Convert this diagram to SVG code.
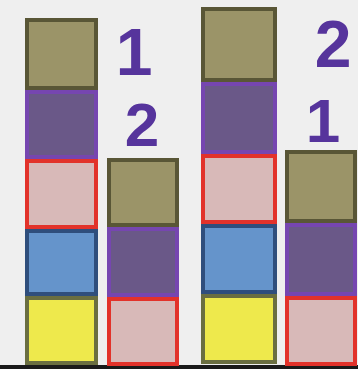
<svg xmlns="http://www.w3.org/2000/svg" width="358" height="369" viewBox="0 0 358 369">
  <style>
    .olive{fill:#9b9468;stroke:#595636;stroke-width:4}
    .purple{fill:#6a5888;stroke:#7646b0;stroke-width:4}
    .pink{fill:#d8b9b8;stroke:#e2322a;stroke-width:4}
    .blue{fill:#6594cb;stroke:#2f4e7c;stroke-width:4}
    .yellow{fill:#eee94c;stroke:#6a6e40;stroke-width:4}
    .num{font-family:"Liberation Sans",Arial,sans-serif;font-weight:bold;fill:#56349c;text-anchor:middle}
  </style>
  <rect x="0" y="0" width="358" height="369" fill="#efefef"/>
  <rect x="0" y="365" width="358" height="4" fill="#1a1a1a"/>
  <g id="column1">
    <rect class="olive" x="27" y="20" width="69" height="68"/>
    <rect class="purple" x="27" y="92" width="69" height="65"/>
    <rect class="pink" x="27" y="161" width="69" height="66"/>
    <rect class="blue" x="27" y="231" width="69" height="63"/>
    <rect class="yellow" x="27" y="298" width="69" height="65"/>
  </g>
  <g id="column2">
    <rect class="olive" x="109" y="160" width="68" height="65"/>
    <rect class="purple" x="109" y="229" width="68" height="66"/>
    <rect class="pink" x="109" y="299" width="68" height="65"/>
  </g>
  <g id="column3">
    <rect class="olive" x="203" y="9" width="72" height="71"/>
    <rect class="purple" x="203" y="84" width="72" height="68"/>
    <rect class="pink" x="203" y="156" width="72" height="66"/>
    <rect class="blue" x="203" y="226" width="72" height="66"/>
    <rect class="yellow" x="203" y="296" width="72" height="66"/>
  </g>
  <g id="column4">
    <rect class="olive" x="287" y="152" width="68" height="69"/>
    <rect class="purple" x="287" y="225" width="68" height="69"/>
    <rect class="pink" x="287" y="298" width="68" height="66"/>
  </g>
  <g id="labels-left">
    <text class="num" x="134" y="75" font-size="66">1</text>
    <text class="num" x="142" y="146" font-size="62">2</text>
  </g>
  <g id="labels-right">
    <text class="num" x="333" y="67" font-size="66">2</text>
    <text class="num" x="323" y="142" font-size="62">1</text>
  </g>
</svg>
